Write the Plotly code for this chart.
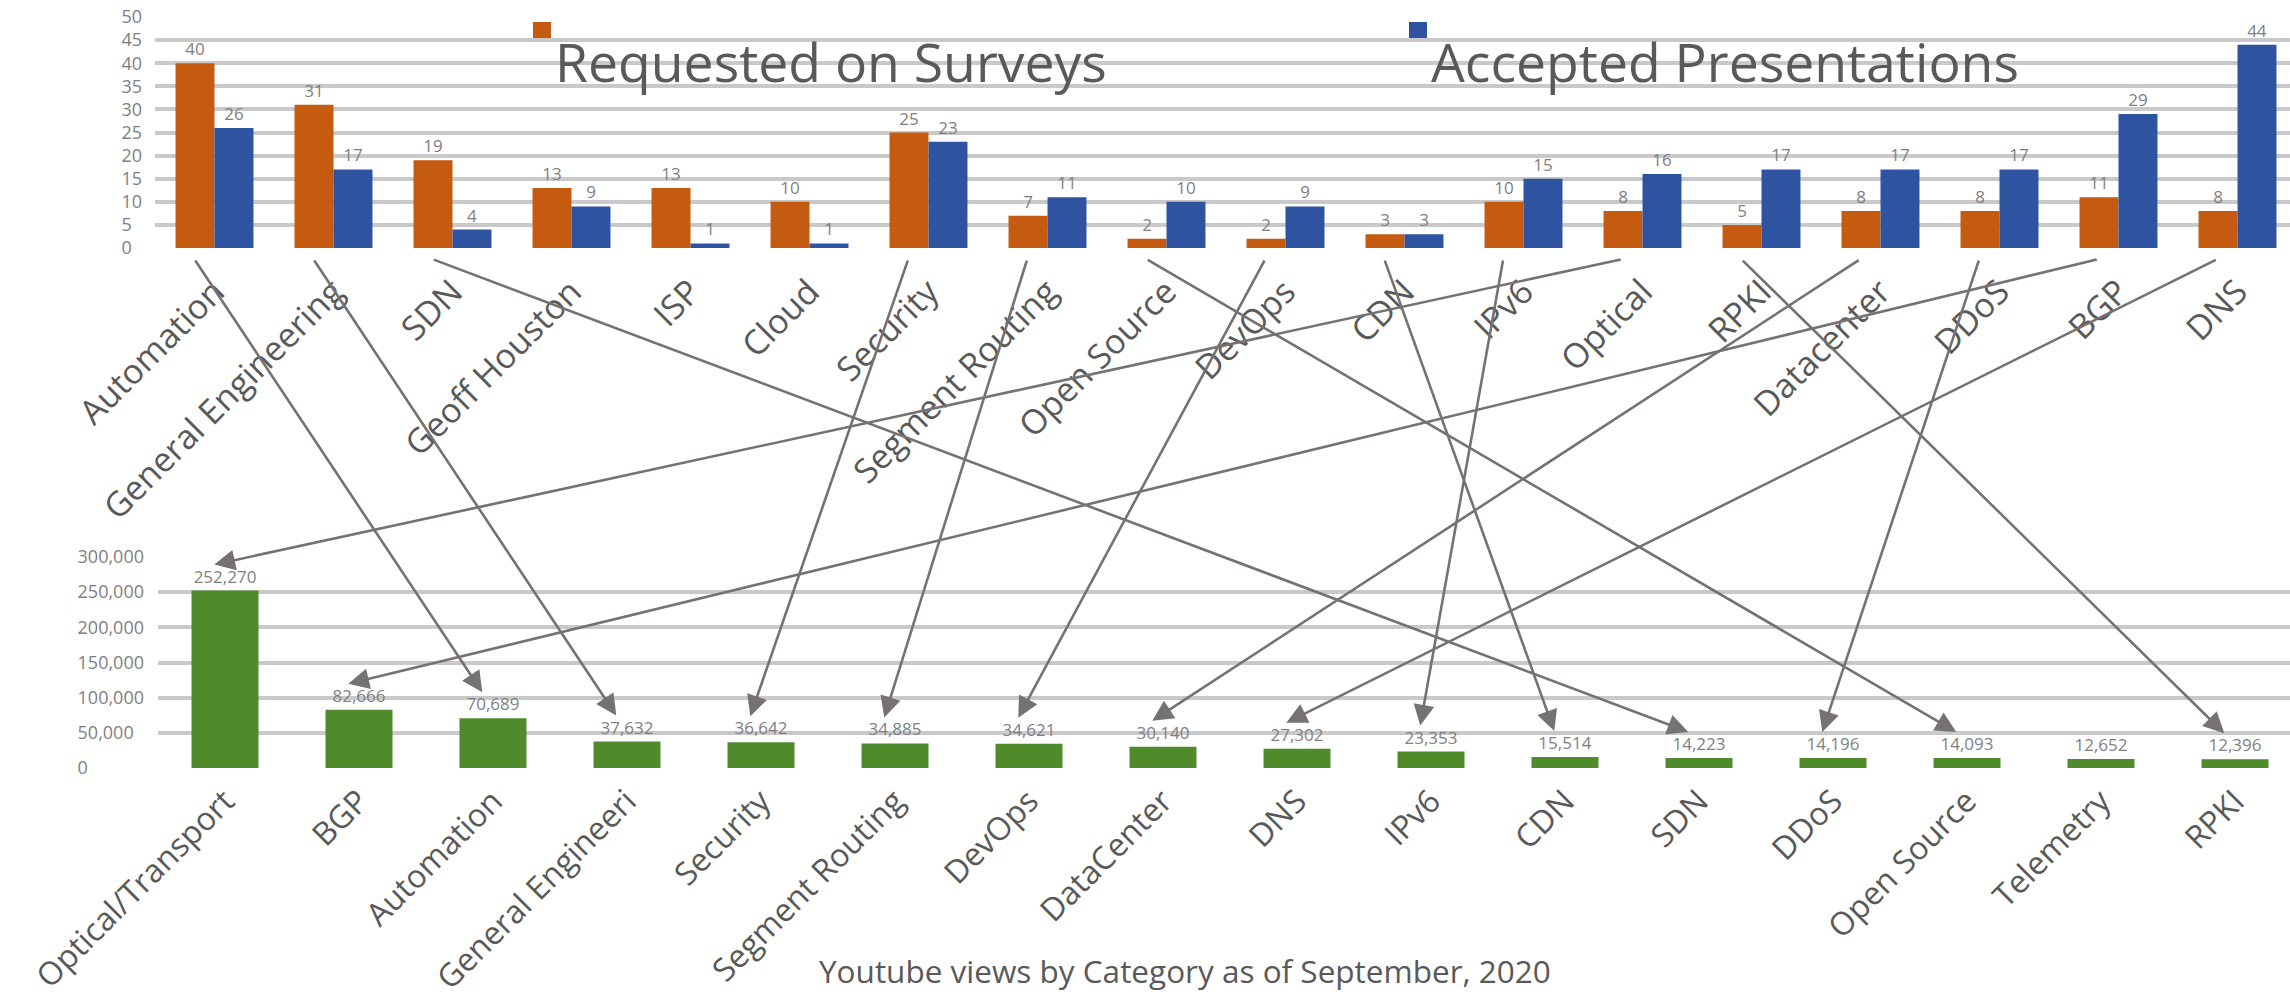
import plotly.graph_objects as go

# ---------------- data ----------------
survey_categories = ["Automation", "General Engineering", "SDN", "Geoff Houston", "ISP", "Cloud",
                     "Security", "Segment Routing", "Open Source", "DevOps", "CDN", "IPv6",
                     "Optical", "RPKI", "Datacenter", "DDoS", "BGP", "DNS"]
requested_on_surveys = [40, 31, 19, 13, 13, 10, 25, 7, 2, 2, 3, 10, 8, 5, 8, 8, 11, 8]
accepted_presentations = [26, 17, 4, 9, 1, 1, 23, 11, 10, 9, 3, 15, 16, 17, 17, 17, 29, 44]

youtube_categories = ["Optical/Transport", "BGP", "Automation", "General Engineeri", "Security",
                      "Segment Routing", "DevOps", "DataCenter", "DNS", "IPv6", "CDN", "SDN",
                      "DDoS", "Open Source", "Telemetry", "RPKI"]
youtube_views = [252270, 82666, 70689, 37632, 36642, 34885, 34621, 30140, 27302, 23353,
                 15514, 14223, 14196, 14093, 12652, 12396]

# arrows: survey category -> youtube category
links = [("Automation", "Automation"), ("General Engineering", "General Engineeri"),
         ("SDN", "SDN"), ("Security", "Security"), ("Segment Routing", "Segment Routing"),
         ("Open Source", "Open Source"), ("DevOps", "DevOps"), ("CDN", "CDN"),
         ("IPv6", "IPv6"), ("Optical", "Optical/Transport"), ("RPKI", "RPKI"),
         ("Datacenter", "DataCenter"), ("DDoS", "DDoS"), ("BGP", "BGP"), ("DNS", "DNS")]

top_ticks = [0, 5, 10, 15, 20, 25, 30, 35, 40, 45, 50]
bottom_ticks = [0, 50000, 100000, 150000, 200000, 250000, 300000]

title_text = "Youtube views by Category as of September, 2020"

# ---------------- layout geometry ----------------
W, H = 2290, 1001
FONT = "Open Sans"
ORANGE = "#C55A11"
BLUE = "#2E54A1"
GREEN = "#4F8A2B"
GRID = "#C9C9C9"
TICKC = "#7F7F7F"
LABC = "#595959"
ARROWC = "#767272"

top_xdom = [155 / W, 1.0]
top_xrng = [-0.5, -0.5 + (W - 155) / 119]
top_ydom = [1 - 248 / H, 1 - 17 / H]
top_yrng = [0, 50]

bot_xdom = [158 / W, 1.0]
bot_xrng = [-0.5, -0.5 + (W - 158) / 134]
bot_ydom = [1 - 768 / H, 1 - 557 / H]
bot_yrng = [0, 300000]


def frac(v, dom, rng):
    return dom[0] + (v - rng[0]) / (rng[1] - rng[0]) * (dom[1] - dom[0])


FS = "\u2007"  # figure space (digit width)
PS = "\u2008"  # punctuation space (comma width)


def left_pad(label, longest):
    pad = ""
    diff = longest[len(label):] if len(label) < len(longest) else ""
    for ch in diff:
        pad += PS if ch == "," else FS
    return label + pad


top_ticktext = [left_pad(str(v), "50") for v in top_ticks]
bot_labels = [f"{v:,}" for v in bottom_ticks]
bot_ticktext = [left_pad(s, "300,000") for s in bot_labels]

fig = go.Figure()

fig.add_trace(go.Bar(x=survey_categories, y=requested_on_surveys, name="Requested on Surveys",
                     marker=dict(color=ORANGE, line=dict(width=0)), xaxis="x", yaxis="y",
                     text=requested_on_surveys, textposition="outside", cliponaxis=False,
                     textfont=dict(family=FONT, size=17, color=TICKC)))
fig.add_trace(go.Bar(x=survey_categories, y=accepted_presentations, name="Accepted Presentations",
                     marker=dict(color=BLUE, line=dict(width=0)), xaxis="x", yaxis="y",
                     text=accepted_presentations, textposition="outside", cliponaxis=False,
                     textfont=dict(family=FONT, size=17, color=TICKC)))
fig.add_trace(go.Bar(x=youtube_categories, y=youtube_views, name="Youtube views",
                     marker=dict(color=GREEN, line=dict(width=0)), xaxis="x2", yaxis="y2",
                     width=0.5, texttemplate="%{y:,}", textposition="outside", cliponaxis=False,
                     textfont=dict(family=FONT, size=17, color=TICKC)))
# helper overlay subplot in figure-fraction coordinates (for arrows)
fig.add_trace(go.Scatter(x=[None], y=[None], xaxis="x3", yaxis="y3", showlegend=False,
                         hoverinfo="skip"))

annotations = []
shapes = []

# arrows
for src, dst in links:
    i = survey_categories.index(src)
    j = youtube_categories.index(dst)
    tx = frac(i - 0.17, top_xdom, top_xrng)
    ty = frac(-2.4, top_ydom, top_yrng)
    hx = frac(j - 0.08, bot_xdom, bot_xrng)
    hy = frac(youtube_views[j] + 37000, bot_ydom, bot_yrng)
    annotations.append(dict(x=hx, y=hy, xref="x3", yref="y3", ax=tx, ay=ty,
                            axref="x3", ayref="y3", text="", showarrow=True,
                            arrowhead=2, arrowsize=1.6, arrowwidth=2.6,
                            arrowcolor=ARROWC, standoff=0, startstandoff=0))

# legend (markers above-left of big labels)
legend_items = [("Requested on Surveys", ORANGE, 533), ("Accepted Presentations", BLUE, 1409)]
for name, col, px in legend_items:
    shapes.append(dict(type="rect", xref="paper", yref="paper",
                       x0=px / W, x1=(px + 18) / W, y0=1 - 38 / H, y1=1 - 22 / H,
                       fillcolor=col, line=dict(width=0)))
    annotations.append(dict(x=(px + 20) / W, y=1 - 61 / H, xref="paper", yref="paper",
                            text=name, showarrow=False, xanchor="left", yanchor="middle",
                            font=dict(family=FONT, size=53.5, color=LABC)))

annotations.append(dict(x=1185 / W, y=1 - 970 / H, xref="paper", yref="paper",
                        text=title_text, showarrow=False, xanchor="center", yanchor="middle",
                        font=dict(family=FONT, size=31.5, color=LABC)))

axis_common = dict(showline=False, zeroline=False, ticks="", automargin=False)

fig.update_layout(
    width=W, height=H,
    margin=dict(l=0, r=0, t=0, b=0, pad=0),
    paper_bgcolor="white", plot_bgcolor="rgba(0,0,0,0)",
    showlegend=False, barmode="group", bargap=0.345, bargroupgap=0,
    font=dict(family=FONT, color=LABC),
    xaxis=dict(domain=top_xdom, range=top_xrng, anchor="y", type="category",
               showgrid=False, tickangle=-45, ticklabelstandoff=16,
               tickfont=dict(family=FONT, size=34, color=LABC), **axis_common),
    yaxis=dict(domain=top_ydom, range=top_yrng, anchor="x", showgrid=True,
               gridcolor=GRID, gridwidth=4, tickmode="array", tickvals=top_ticks,
               ticktext=top_ticktext, ticklabelstandoff=12,
               tickfont=dict(family=FONT, size=18, color=TICKC), **axis_common),
    xaxis2=dict(domain=bot_xdom, range=bot_xrng, anchor="y2", type="category",
                showgrid=False, tickangle=-45, ticklabelstandoff=7,
                tickfont=dict(family=FONT, size=32, color=LABC), **axis_common),
    yaxis2=dict(domain=bot_ydom, range=bot_yrng, anchor="x2", showgrid=True,
                gridcolor=GRID, gridwidth=4, tickmode="array", tickvals=bottom_ticks,
                ticktext=bot_ticktext, ticklabelstandoff=13,
                tickfont=dict(family=FONT, size=18, color=TICKC), **axis_common),
    xaxis3=dict(domain=[0, 1], range=[0, 1], anchor="y3", visible=False, fixedrange=True),
    yaxis3=dict(domain=[0, 1], range=[0, 1], anchor="x3", visible=False, fixedrange=True),
    annotations=annotations,
    shapes=shapes,
)

fig.write_html("out.html")
